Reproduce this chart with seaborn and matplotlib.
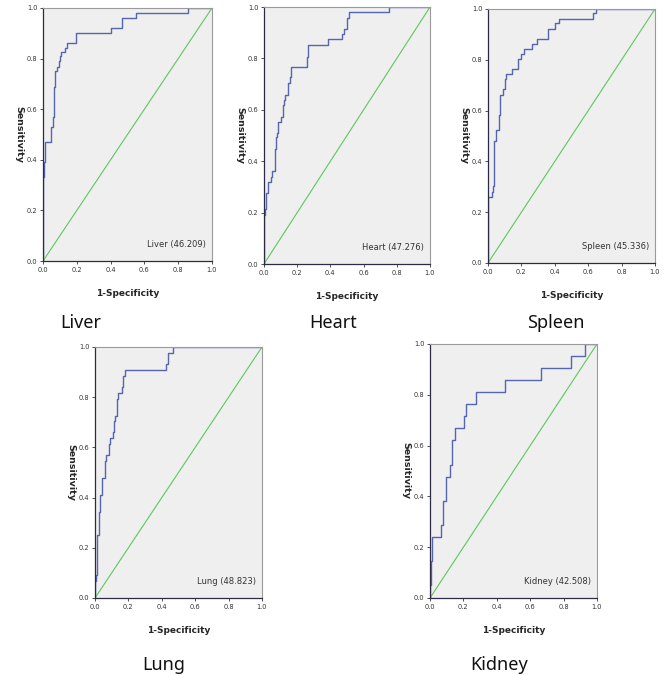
import numpy as np
import pandas as pd
import matplotlib
matplotlib.use("Agg")
import matplotlib.pyplot as plt
import seaborn as sns

# ROC step points: at each fpr the curve climbs to tpr
liver_fpr = [0.0, 0.0, 0.006, 0.014, 0.05, 0.06, 0.064, 0.07, 0.08, 0.095, 0.10, 0.107, 0.13, 0.142, 0.198, 0.40, 0.47, 0.55, 0.86, 1.0]
liver_tpr = [0.0, 0.333, 0.39, 0.47, 0.53, 0.57, 0.686, 0.75, 0.765, 0.79, 0.81, 0.825, 0.843, 0.863, 0.902, 0.922, 0.96, 0.98, 1.0, 1.0]

heart_fpr = [0.0, 0.0, 0.006, 0.012, 0.022, 0.042, 0.048, 0.064, 0.072, 0.078, 0.085, 0.105, 0.113, 0.119, 0.125, 0.147, 0.159, 0.165, 0.262, 0.268, 0.384, 0.469, 0.481, 0.501, 0.513, 0.755, 1.0]
heart_tpr = [0.0, 0.19, 0.213, 0.278, 0.318, 0.34, 0.363, 0.447, 0.493, 0.511, 0.553, 0.573, 0.619, 0.638, 0.658, 0.703, 0.726, 0.768, 0.807, 0.852, 0.874, 0.894, 0.913, 0.956, 0.979, 1.0, 1.0]

spleen_fpr = [0.0, 0.0, 0.022, 0.032, 0.038, 0.05, 0.068, 0.074, 0.089, 0.101, 0.109, 0.145, 0.179, 0.199, 0.213, 0.266, 0.296, 0.36, 0.40, 0.423, 0.63, 0.644, 1.0]
spleen_tpr = [0.0, 0.261, 0.281, 0.303, 0.482, 0.524, 0.583, 0.661, 0.684, 0.723, 0.744, 0.764, 0.802, 0.822, 0.841, 0.864, 0.883, 0.923, 0.944, 0.962, 0.983, 1.0, 1.0]

lung_fpr = [0.0, 0.0, 0.006, 0.014, 0.022, 0.03, 0.044, 0.058, 0.064, 0.083, 0.091, 0.105, 0.111, 0.121, 0.131, 0.137, 0.163, 0.169, 0.177, 0.425, 0.439, 0.469, 1.0]
lung_tpr = [0.0, 0.066, 0.093, 0.252, 0.341, 0.41, 0.478, 0.544, 0.568, 0.614, 0.637, 0.66, 0.704, 0.726, 0.793, 0.817, 0.841, 0.883, 0.907, 0.932, 0.976, 1.0, 1.0]

kidney_fpr = [0.0, 0.0, 0.004, 0.012, 0.066, 0.078, 0.094, 0.122, 0.134, 0.15, 0.204, 0.218, 0.273, 0.447, 0.667, 0.846, 0.926, 1.0]
kidney_tpr = [0.0, 0.052, 0.144, 0.24, 0.289, 0.381, 0.476, 0.525, 0.621, 0.669, 0.715, 0.765, 0.811, 0.857, 0.906, 0.954, 1.0, 1.0]

organs = ["Liver", "Heart", "Spleen", "Lung", "Kidney"]
legend_values = ["46.209", "47.276", "45.336", "48.823", "42.508"]
curves = [(liver_fpr, liver_tpr), (heart_fpr, heart_tpr), (spleen_fpr, spleen_tpr),
          (lung_fpr, lung_tpr), (kidney_fpr, kidney_tpr)]

sns.set_theme(style="white")
plt.rcParams["font.family"] = ["DejaVu Sans"]

W, H = 666, 675
fig = plt.figure(figsize=(W / 100, H / 100), dpi=100)

# axes boxes in pixels: left, right, top, bottom
boxes = [(43, 212, 8, 261), (264, 430, 7, 264), (488, 655, 9, 263),
         (95, 262, 347, 598), (430, 597, 344, 598)]
# big caption centres in pixels
captions = [(81, 323), (333, 323), (556, 323), (164, 665), (499, 665)]

line_col = "#5565b0"
diag_col = "#5cc85c"

for i, organ in enumerate(organs):
    l, r, t, b = boxes[i]
    ax = fig.add_axes([l / W, 1 - b / H, (r - l) / W, (b - t) / H])
    ax.set_facecolor("#efefef")
    fpr, tpr = curves[i]
    df = pd.DataFrame({"fpr": fpr, "tpr": tpr})
    sns.lineplot(data=df, x="fpr", y="tpr", estimator=None, sort=False,
                 drawstyle="steps-post", color=line_col, linewidth=1.0, ax=ax)
    sns.lineplot(x=[0, 1], y=[0, 1], color=diag_col, linewidth=0.8, ax=ax)
    ax.set_xlim(0, 1)
    ax.set_ylim(0, 1)
    ticks = np.arange(0, 1.01, 0.2)
    ax.set_xticks(ticks)
    ax.set_yticks(ticks)
    ax.set_xticklabels([f"{v:.1f}" for v in ticks])
    ax.set_yticklabels([f"{v:.1f}" for v in ticks])
    ax.tick_params(axis="both", labelsize=4.8, length=2.5, width=0.6,
                   direction="out", pad=1.5, colors="#333333",
                   bottom=True, left=True)
    for side in ["left", "bottom"]:
        ax.spines[side].set_color("#2b2b45")
        ax.spines[side].set_linewidth(0.9)
    for side in ["top", "right"]:
        ax.spines[side].set_color("#9a9a9a")
        ax.spines[side].set_linewidth(0.8)
    ax.set_xlabel("1-Specificity", fontsize=6.5, fontweight="bold", labelpad=12)
    ax.set_ylabel("Sensitivity", fontsize=6.8, fontweight="bold", rotation=270,
                  labelpad=9, va="bottom")
    ax.text(0.965, 0.065, f"{organ} ({legend_values[i]})", transform=ax.transAxes,
            ha="right", va="center", fontsize=6.0, color="#333333")
    cx, cy = captions[i]
    fig.text(cx / W, 1 - cy / H, organ, ha="center", va="center", fontsize=13,
             family="Noto Sans", color="#111111")

fig.savefig("out.png", dpi=100)
